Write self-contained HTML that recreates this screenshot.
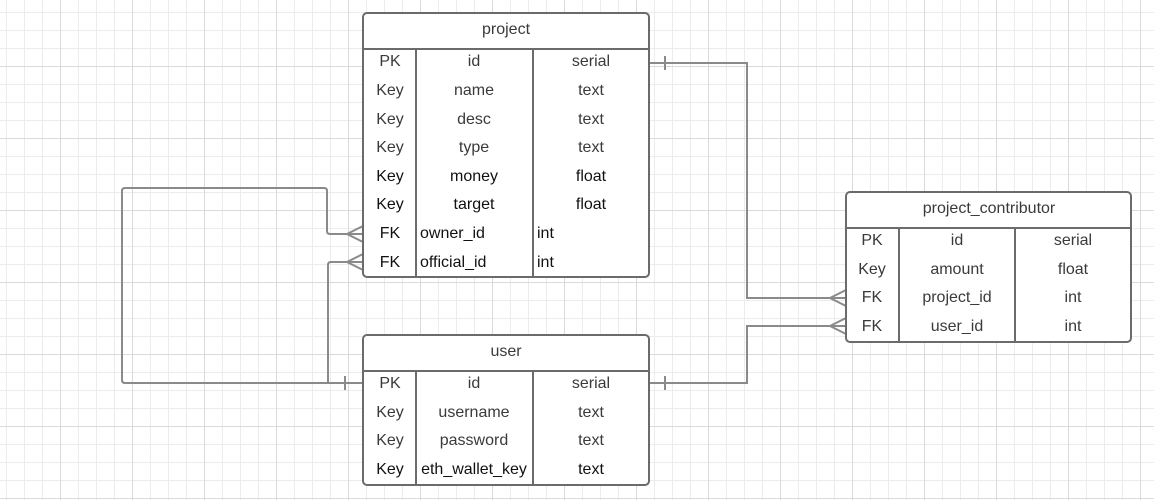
<!DOCTYPE html>
<html><head><meta charset="utf-8"><style>
html,body{margin:0;padding:0;background:#fff;}
svg{display:block;font-family:"Liberation Sans",sans-serif;}
</style></head><body>
<svg width="1154" height="500" xmlns="http://www.w3.org/2000/svg">
<defs>
<pattern id="minor" x="6" y="12" width="18" height="18" patternUnits="userSpaceOnUse">
<path d="M0.5 0V18M0 0.5H18" stroke="#ececec" stroke-width="1" fill="none"/>
</pattern>
<pattern id="major" x="60" y="66" width="72" height="72" patternUnits="userSpaceOnUse">
<path d="M0.5 0V72M0 0.5H72" stroke="#dadada" stroke-width="1" fill="none"/>
</pattern>
</defs>
<rect width="1154" height="500" fill="url(#minor)"/>
<rect width="1154" height="500" fill="url(#major)"/>

<g stroke="#8a8a8a" stroke-width="2" fill="none">
<path d="M649 63 H747 V298 H846"/>
<path d="M665 56 V70"/>
<path d="M830 298 L846 290 M830 298 L846 306"/>
<path d="M649 383 H747 V326 H846"/>
<path d="M665 376 V390"/>
<path d="M830 326 L846 318 M830 326 L846 334"/>
<path d="M363 383 H125 Q122 383 122 380 V191 Q122 188 125 188 H324 Q327 188 327 191 V231 Q327 234 330 234 H363"/>
<path d="M345 376 V390"/>
<path d="M347 234 L363 226 M347 234 L363 242"/>
<path d="M328 383 V265 Q328 262 331 262 H363"/>
<path d="M347 262 L363 254 M347 262 L363 270"/>
</g>

<g stroke="#6b6b6b" stroke-width="2" fill="#fff">
<rect x="363" y="13" width="286" height="264" rx="4"/>
<rect x="846" y="192" width="285" height="150" rx="4"/>
<rect x="363" y="335" width="286" height="150" rx="4"/>
</g>
<g stroke="#6b6b6b" stroke-width="2">
<path d="M363 49H649M416 49V277M533 49V277"/>
<path d="M846 228H1131M899 228V342M1015 228V342"/>
<path d="M363 371H649M416 371V485M533 371V485"/>
</g>

<g font-size="16" fill="#3a3a3a" text-anchor="middle">
<text x="506" y="34">project</text>
<text x="390" y="66">PK</text><text x="474" y="66">id</text><text x="591" y="66">serial</text>
<text x="390" y="95">Key</text><text x="474" y="95">name</text><text x="591" y="95">text</text>
<text x="390" y="124">Key</text><text x="474" y="124">desc</text><text x="591" y="124">text</text>
<text x="390" y="152">Key</text><text x="474" y="152">type</text><text x="591" y="152">text</text>
<g fill="#111">
<text x="390" y="181">Key</text><text x="474" y="181">money</text><text x="591" y="181">float</text>
<text x="390" y="209">Key</text><text x="474" y="209">target</text><text x="591" y="209">float</text>
<text x="390" y="238">FK</text><text x="420" y="238" text-anchor="start">owner_id</text><text x="537" y="238" text-anchor="start">int</text>
<text x="390" y="267">FK</text><text x="420" y="267" text-anchor="start">official_id</text><text x="537" y="267" text-anchor="start">int</text>
</g>

<text x="989" y="213">project_contributor</text>
<text x="872" y="245">PK</text><text x="957" y="245">id</text><text x="1073" y="245">serial</text>
<text x="872" y="274">Key</text><text x="957" y="274">amount</text><text x="1073" y="274">float</text>
<text x="872" y="302">FK</text><text x="957" y="302">project_id</text><text x="1073" y="302">int</text>
<text x="872" y="331">FK</text><text x="957" y="331">user_id</text><text x="1073" y="331">int</text>

<text x="506" y="356">user</text>
<text x="390" y="388">PK</text><text x="474" y="388">id</text><text x="591" y="388">serial</text>
<text x="390" y="417">Key</text><text x="474" y="417">username</text><text x="591" y="417">text</text>
<text x="390" y="445">Key</text><text x="474" y="445">password</text><text x="591" y="445">text</text>
<g fill="#111">
<text x="390" y="474">Key</text><text x="474" y="474">eth_wallet_key</text><text x="591" y="474">text</text>
</g>
</g>
</svg>
</body></html>
